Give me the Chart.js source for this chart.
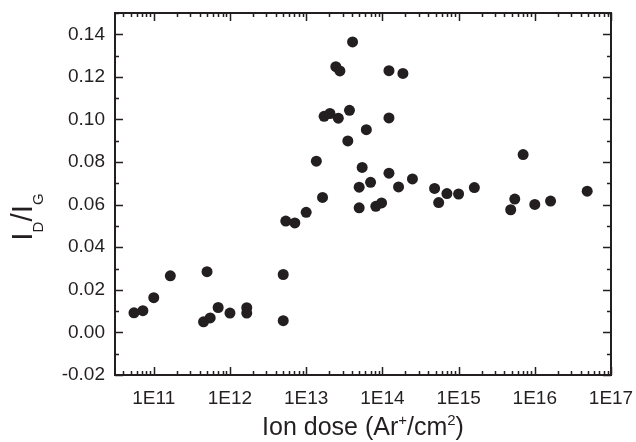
<!DOCTYPE html>
<html>
<head>
<meta charset="utf-8">
<script src="https://cdn.jsdelivr.net/npm/chart.js@4.4.0/dist/chart.umd.min.js"></script>
<style>
  html, body { margin: 0; padding: 0; background: #fff; }
</style>
</head>
<body>
<canvas id="ratioChart" width="636" height="442"></canvas>
<script>
// Ion dose (Ar+/cm2) and I_D/I_G ratio
var doses = [
    5.5e10, 7.2e10, 1.0e11, 1.65e11, 5.0e11, 4.5e11, 5.5e11, 7.0e11, 1.0e12, 1.66e12,
    1.66e12, 5.0e12, 5.0e12, 5.4e12, 7.1e12, 1.0e13, 1.36e13, 1.64e13, 1.72e13, 2.05e13,
    2.64e13, 3.7e13, 2.45e13, 2.77e13, 4.06e13, 3.52e13, 6.16e13, 5.43e13, 4.96e13, 7.0e13,
    4.96e13, 8.2e13, 9.76e13, 1.22e14, 1.86e14, 1.22e14, 1.22e14, 1.63e14, 2.48e14, 4.84e14,
    5.48e14, 7.03e14, 1.0e15, 1.61e15, 7.03e15, 5.46e15, 4.83e15, 1.0e16, 1.61e16, 4.87e16
];
var ratios = [
    0.0092, 0.0102, 0.0163, 0.0266, 0.0285, 0.0050, 0.0068, 0.0117, 0.0091, 0.0116,
    0.0091, 0.0272, 0.0055, 0.0523, 0.0514, 0.0564, 0.0804, 0.0634, 0.1015, 0.1028,
    0.1006, 0.1043, 0.1248, 0.1228, 0.1364, 0.0899, 0.0952, 0.0775, 0.0682, 0.0705,
    0.0585, 0.0592, 0.0608, 0.1229, 0.1216, 0.1007, 0.0748, 0.0683, 0.0721, 0.0676,
    0.0610, 0.0652, 0.0650, 0.0680, 0.0835, 0.0626, 0.0576, 0.0601, 0.0617, 0.0663
];

// axis ticks
var xTickValues = [1e11, 1e12, 1e13, 1e14, 1e15, 1e16, 1e17];
var xTickLabels = ["1E11", "1E12", "1E13", "1E14", "1E15", "1E16", "1E17"];
var yTickValues = [-0.02, 0.00, 0.02, 0.04, 0.06, 0.08, 0.10, 0.12, 0.14];
var yTickLabels = ["-0.02", "0.00", "0.02", "0.04", "0.06", "0.08", "0.10", "0.12", "0.14"];

var ink = '#231f20';
var fontFamily = '"Liberation Sans", Arial, sans-serif';

var points = doses.map(function (d, i) { return { x: d, y: ratios[i] }; });

// labels may hang past the plot edges, as in the original
function noLabelPadding(axis) {
    axis.paddingLeft = 0;
    axis.paddingRight = 0;
    axis.paddingTop = 0;
    axis.paddingBottom = 0;
}

// frame with inward ticks on all four sides, plus the two axis titles
var framePlugin = {
    id: 'frame',
    afterDraw: function (chart) {
        var ctx = chart.ctx;
        var a = chart.chartArea;
        var xs = chart.scales.x, ys = chart.scales.y;
        ctx.save();
        ctx.strokeStyle = ink;
        ctx.lineWidth = 1.5;
        ctx.beginPath();
        // x ticks: majors at decades, minors at 2..9
        for (var e = 10; e <= 16; e++) {
            for (var m = 1; m <= 10; m++) {
                var v = m * Math.pow(10, e);
                if (v < xs.min || v > xs.max) continue;
                var len = (m === 1 || m === 10) ? 8 : 4;
                var px = Math.round(xs.getPixelForValue(v)) + 0.5;
                ctx.moveTo(px, a.bottom); ctx.lineTo(px, a.bottom - len);
                ctx.moveTo(px, a.top); ctx.lineTo(px, a.top + len);
            }
        }
        // y ticks: majors every 0.02, minors in between
        for (var k = -2; k <= 15; k++) {
            var yv = k / 100;
            var ylen = (k % 2 === 0) ? 8 : 4;
            var py = Math.round(ys.getPixelForValue(yv)) + 0.5;
            ctx.moveTo(a.left, py); ctx.lineTo(a.left + ylen, py);
            ctx.moveTo(a.right, py); ctx.lineTo(a.right - ylen, py);
        }
        ctx.stroke();
        ctx.lineWidth = 2;
        ctx.strokeRect(a.left, a.top, a.right - a.left, a.bottom - a.top);

        ctx.fillStyle = ink;
        ctx.textBaseline = 'alphabetic';

        // x title: Ion dose (Ar+/cm2)
        var parts = [
            ['Ion dose (Ar', 25, 0], ['+', 15, -10], ['/cm', 25, 0], ['2', 15, -10], [')', 25, 0]
        ];
        var total = 0;
        parts.forEach(function (p) {
            ctx.font = p[1] + 'px ' + fontFamily;
            total += ctx.measureText(p[0]).width;
        });
        var tx = (a.left + a.right) / 2 - total / 2;
        parts.forEach(function (p) {
            ctx.font = p[1] + 'px ' + fontFamily;
            ctx.fillText(p[0], tx, 435 + p[2]);
            tx += ctx.measureText(p[0]).width;
        });

        // y title: I_D/I_G, rotated
        var yparts = [
            ['I', 30, 0], ['D', 15, 11], ['/I', 30, 0], ['G', 15, 11]
        ];
        var ytotal = 0;
        yparts.forEach(function (p) {
            ctx.font = p[1] + 'px ' + fontFamily;
            ytotal += ctx.measureText(p[0]).width;
        });
        ctx.translate(32, 217);
        ctx.rotate(-Math.PI / 2);
        var ty = -ytotal / 2;
        yparts.forEach(function (p) {
            ctx.font = p[1] + 'px ' + fontFamily;
            ctx.fillText(p[0], ty, p[2]);
            ty += ctx.measureText(p[0]).width;
        });
        ctx.restore();
    }
};

var ctxRatio = document.getElementById("ratioChart").getContext('2d');
var ratioChart = new Chart(ctxRatio, {
    type: 'scatter',
    data: {
        datasets: [{
            data: points,
            backgroundColor: ink,
            borderWidth: 0,
            pointRadius: 5.5,
            pointHoverRadius: 5.5
        }]
    },
    options: {
        responsive: false,
        animation: false,
        layout: { padding: { left: 0, right: 25, top: 13, bottom: 0 } },
        plugins: {
            legend: { display: false },
            tooltip: { enabled: false }
        },
        scales: {
            x: {
                type: 'logarithmic',
                min: 3.1e10,
                max: 1e17,
                grid: { display: false, drawTicks: false },
                border: { display: false },
                ticks: {
                    color: ink,
                    font: { family: fontFamily, size: 19 },
                    padding: 12,
                    autoSkip: false,
                    maxRotation: 0,
                    callback: function (value, index) { return xTickLabels[index]; }
                },
                afterBuildTicks: function (axis) {
                    axis.ticks = xTickValues.map(function (v) { return { value: v }; });
                },
                afterFit: function (axis) {
                    axis.height = 67;
                    noLabelPadding(axis);
                }
            },
            y: {
                min: -0.02,
                max: 0.15,
                grid: { display: false, drawTicks: false },
                border: { display: false },
                ticks: {
                    color: ink,
                    font: { family: fontFamily, size: 19 },
                    padding: 10,
                    callback: function (value, index) { return yTickLabels[index]; }
                },
                afterBuildTicks: function (axis) {
                    axis.ticks = yTickValues.map(function (v) { return { value: v }; });
                },
                afterFit: function (axis) {
                    axis.width = 115;
                    noLabelPadding(axis);
                }
            }
        }
    },
    plugins: [framePlugin]
});
</script>
</body>
</html>
